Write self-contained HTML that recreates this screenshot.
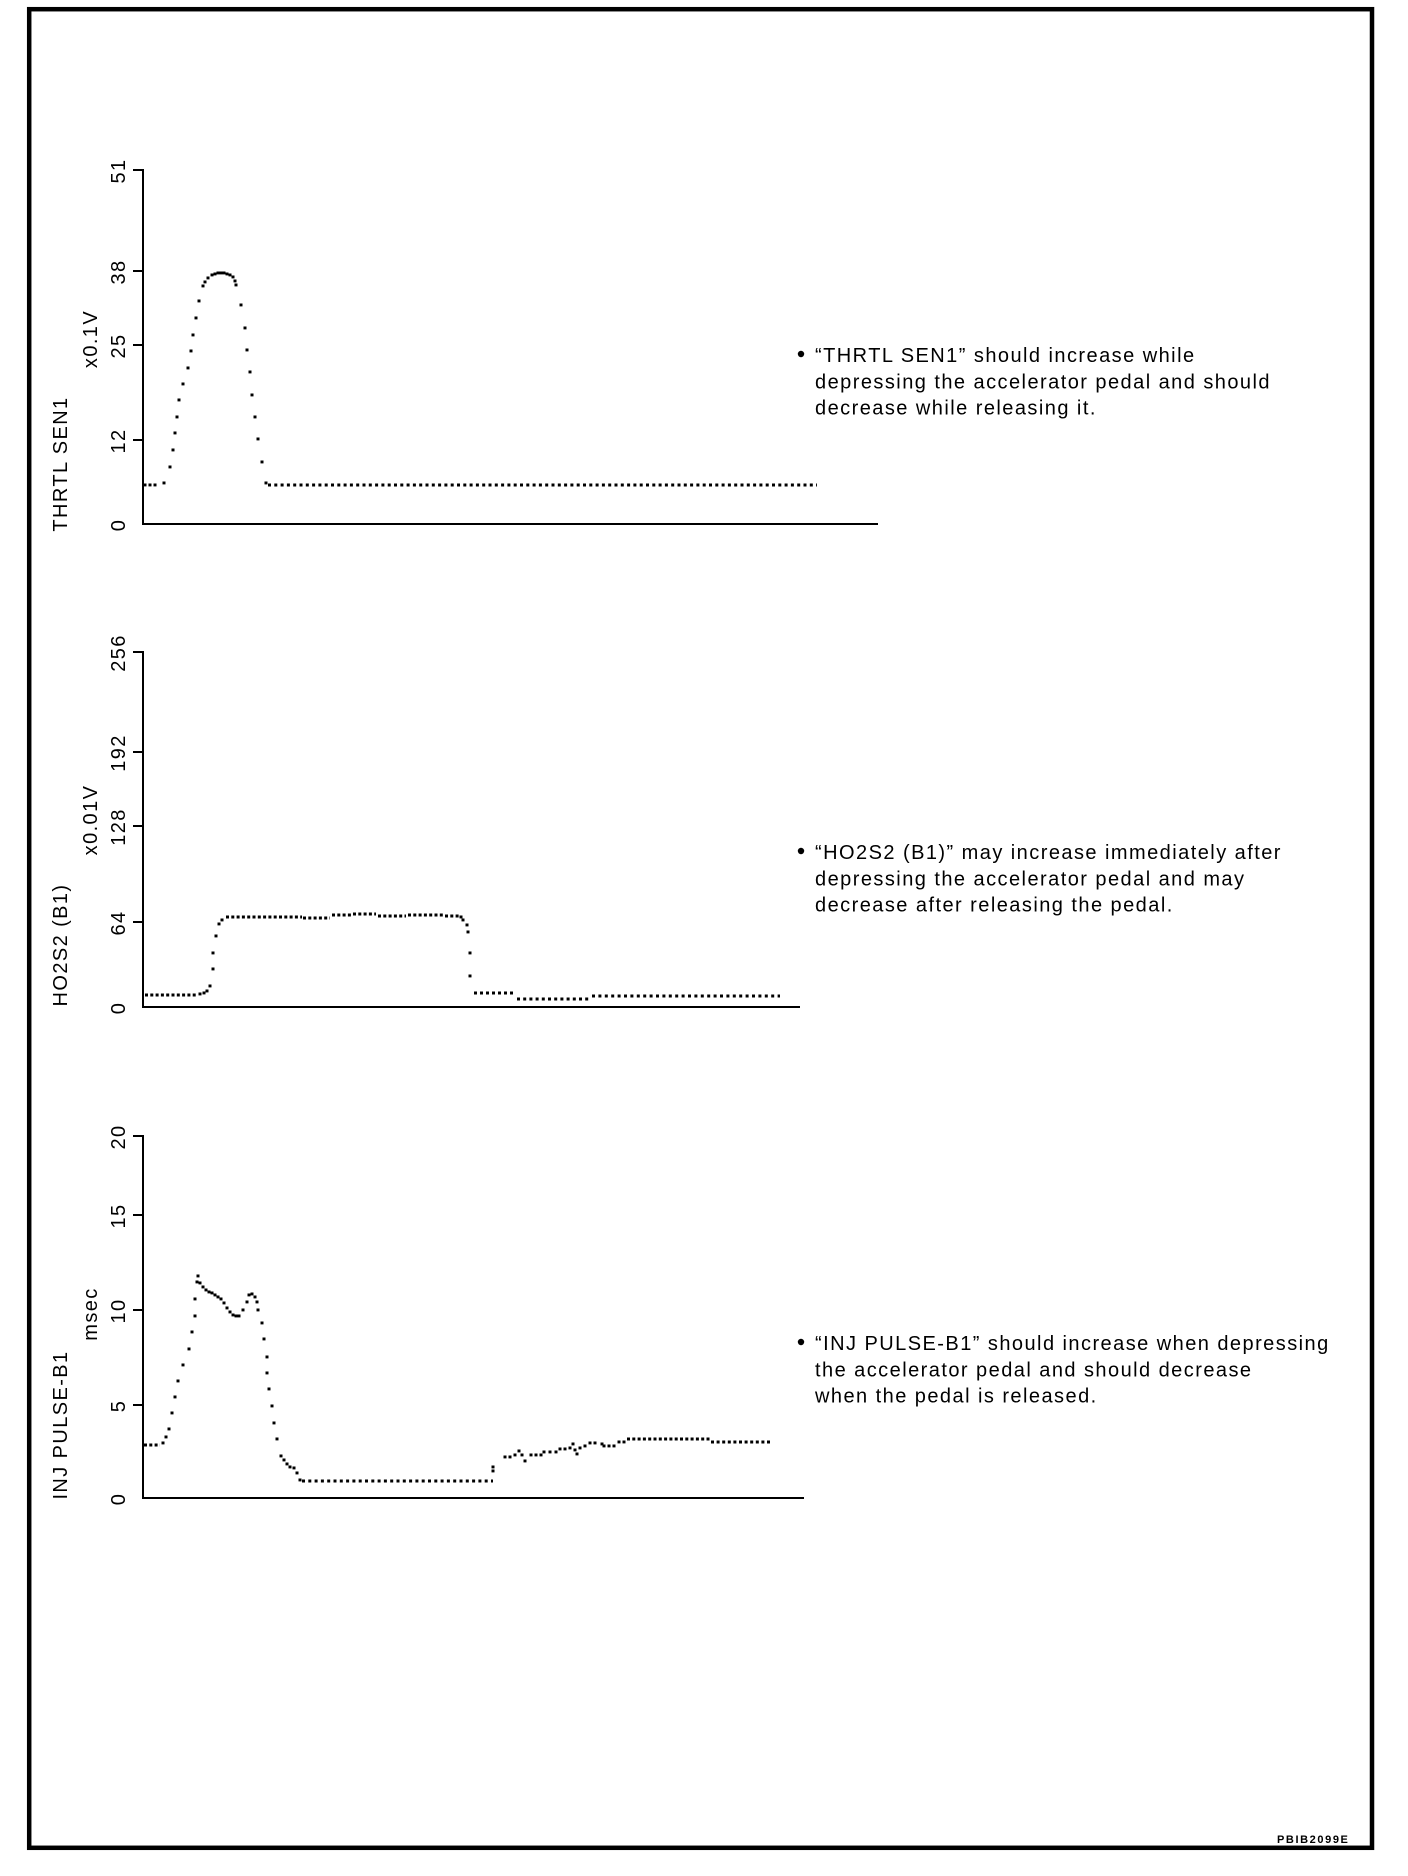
<!DOCTYPE html>
<html>
<head>
<meta charset="utf-8">
<style>
  html, body { margin:0; padding:0; background:#fff; }
  body { width:1408px; height:1876px; overflow:hidden; }
  svg { display:block; }
  text { font-family: "Liberation Sans", Arial, sans-serif; fill:#000; }
  .lbl { font-size:20px; letter-spacing:1.4px; }
  .para { font-size:20px; letter-spacing:1.45px; }
</style>
</head>
<body>
<svg width="1408" height="1876" viewBox="0 0 1408 1876" xmlns="http://www.w3.org/2000/svg">
  <rect x="0" y="0" width="1408" height="1876" fill="#fff"/>
  <!-- frame -->
  <rect x="29.2" y="9.2" width="1342.8" height="1838.6" fill="none" stroke="#000" stroke-width="4.5"/>

  <!-- ============ CHART 1 ============ -->
  <g stroke="#000" stroke-width="2" fill="none">
    <line x1="143" y1="169" x2="143" y2="525"/>
    <line x1="142" y1="524" x2="878" y2="524"/>
    <line x1="133" y1="170" x2="143" y2="170"/>
    <line x1="133" y1="271" x2="143" y2="271"/>
    <line x1="133" y1="345" x2="143" y2="345"/>
    <line x1="133" y1="440" x2="143" y2="440"/>
  </g>
  <g class="lbl">
    <text transform="translate(125,171) rotate(-90)" text-anchor="middle">51</text>
    <text transform="translate(125,272) rotate(-90)" text-anchor="middle">38</text>
    <text transform="translate(125,346) rotate(-90)" text-anchor="middle">25</text>
    <text transform="translate(125,441) rotate(-90)" text-anchor="middle">12</text>
    <text transform="translate(125,525) rotate(-90)" text-anchor="middle">0</text>
    <text transform="translate(97,339) rotate(-90)" text-anchor="middle">x0.1V</text>
    <text transform="translate(67,464) rotate(-90)" text-anchor="middle">THRTL SEN1</text>
  </g>
  <g fill="#000">
    <rect x="143.5" y="483.5" width="3" height="2.9"/>
    <rect x="148.5" y="483.5" width="3" height="2.9"/>
    <rect x="153.5" y="483.5" width="3" height="2.9"/>
    <rect x="162.5" y="481.5" width="3" height="2.9"/>
    <rect x="168.5" y="465.5" width="3" height="2.9"/>
    <rect x="171.5" y="448.5" width="3" height="2.9"/>
    <rect x="173.5" y="431.5" width="3" height="2.9"/>
    <rect x="175.5" y="415.5" width="3" height="2.9"/>
    <rect x="177.5" y="398.5" width="3" height="2.9"/>
    <rect x="181.5" y="382.5" width="3" height="2.9"/>
    <rect x="186.5" y="366.5" width="3" height="2.9"/>
    <rect x="189.5" y="349.5" width="3" height="2.9"/>
    <rect x="191.5" y="333.5" width="3" height="2.9"/>
    <rect x="194.5" y="316.5" width="3" height="2.9"/>
    <rect x="197.5" y="299.5" width="3" height="2.9"/>
    <rect x="201.5" y="284.5" width="3" height="2.9"/>
    <rect x="203.5" y="280.5" width="3" height="2.9"/>
    <rect x="206.5" y="276.5" width="3" height="2.9"/>
    <rect x="210.5" y="273.5" width="3" height="2.9"/>
    <rect x="213.5" y="272.5" width="3" height="2.9"/>
    <rect x="216.5" y="271.5" width="3" height="2.9"/>
    <rect x="219.5" y="271.5" width="3" height="2.9"/>
    <rect x="222.5" y="271.5" width="3" height="2.9"/>
    <rect x="225.5" y="272.5" width="3" height="2.9"/>
    <rect x="228.5" y="273.5" width="3" height="2.9"/>
    <rect x="231.5" y="275.5" width="3" height="2.9"/>
    <rect x="233.5" y="279.5" width="3" height="2.9"/>
    <rect x="234.5" y="283.5" width="3" height="2.9"/>
    <rect x="239.5" y="303.5" width="3" height="2.9"/>
    <rect x="243.5" y="326.5" width="3" height="2.9"/>
    <rect x="245.5" y="348.5" width="3" height="2.9"/>
    <rect x="248.5" y="370.5" width="3" height="2.9"/>
    <rect x="250.5" y="393.5" width="3" height="2.9"/>
    <rect x="253.5" y="415.5" width="3" height="2.9"/>
    <rect x="256.5" y="437.5" width="3" height="2.9"/>
    <rect x="260.5" y="460.5" width="3" height="2.9"/>
    <rect x="264.5" y="481.5" width="3" height="2.9"/>
  </g>
  <line x1="268" y1="485" x2="817" y2="485" stroke="#000" stroke-width="2.9" stroke-dasharray="3 3.3"/>

  <!-- paragraph 1 -->
  <circle cx="801" cy="354" r="3.2" fill="#000"/>
  <g class="para">
    <text x="815" y="362">“THRTL SEN1” should increase while</text>
    <text x="815" y="388.3">depressing the accelerator pedal and should</text>
    <text x="815" y="414.6">decrease while releasing it.</text>
  </g>

  <!-- ============ CHART 2 ============ -->
  <g stroke="#000" stroke-width="2" fill="none">
    <line x1="143" y1="651" x2="143" y2="1008"/>
    <line x1="142" y1="1007" x2="800" y2="1007"/>
    <line x1="133" y1="652" x2="143" y2="652"/>
    <line x1="133" y1="752" x2="143" y2="752"/>
    <line x1="133" y1="826" x2="143" y2="826"/>
    <line x1="133" y1="922" x2="143" y2="922"/>
  </g>
  <g class="lbl">
    <text transform="translate(125,653) rotate(-90)" text-anchor="middle">256</text>
    <text transform="translate(125,753) rotate(-90)" text-anchor="middle">192</text>
    <text transform="translate(125,827) rotate(-90)" text-anchor="middle">128</text>
    <text transform="translate(125,923) rotate(-90)" text-anchor="middle">64</text>
    <text transform="translate(125,1008) rotate(-90)" text-anchor="middle">0</text>
    <text transform="translate(97,820) rotate(-90)" text-anchor="middle">x0.01V</text>
    <text transform="translate(67,945) rotate(-90)" text-anchor="middle">HO2S2 (B1)</text>
  </g>
  <g stroke="#000" stroke-width="2.9" fill="none">
    <line x1="145" y1="995" x2="198" y2="995" stroke-dasharray="3 2.3"/>
    <line x1="226" y1="917" x2="302" y2="917" stroke-dasharray="3 2.3"/>
    <line x1="303" y1="918" x2="330" y2="918" stroke-dasharray="3 2.3"/>
    <line x1="332" y1="915" x2="351" y2="915" stroke-dasharray="3 2.3"/>
    <line x1="353" y1="914" x2="376" y2="914" stroke-dasharray="3 2.3"/>
    <line x1="378" y1="916" x2="406" y2="916" stroke-dasharray="3 2.3"/>
    <line x1="408" y1="915" x2="443" y2="915" stroke-dasharray="3 2.3"/>
    <line x1="445" y1="916" x2="459" y2="916" stroke-dasharray="3 2.3"/>
    <line x1="474" y1="993" x2="516" y2="993" stroke-dasharray="3 3"/>
    <line x1="517" y1="999" x2="591" y2="999" stroke-dasharray="3 3.2"/>
    <line x1="592" y1="996" x2="780" y2="996" stroke-dasharray="3 3.4"/>
  </g>
  <g fill="#000">
    <rect x="198.5" y="992.5" width="3" height="2.9"/>
    <rect x="202.5" y="991.5" width="3" height="2.9"/>
    <rect x="205.5" y="989.5" width="3" height="2.9"/>
    <rect x="208.5" y="984.5" width="3" height="2.9"/>
    <rect x="211.5" y="967.5" width="3" height="2.9"/>
    <rect x="211.5" y="951.5" width="3" height="2.9"/>
    <rect x="214.5" y="934.5" width="3" height="2.9"/>
    <rect x="217.5" y="922.5" width="3" height="2.9"/>
    <rect x="220.5" y="918.5" width="3" height="2.9"/>
    <rect x="459.5" y="915.5" width="3" height="2.9"/>
    <rect x="461.5" y="918.5" width="3" height="2.9"/>
    <rect x="465.5" y="923.5" width="3" height="2.9"/>
    <rect x="466.5" y="930.5" width="3" height="2.9"/>
    <rect x="468.5" y="951.5" width="3" height="2.9"/>
    <rect x="468.5" y="974.5" width="3" height="2.9"/>
  </g>

  <!-- paragraph 2 -->
  <circle cx="801" cy="851" r="3.2" fill="#000"/>
  <g class="para">
    <text x="815" y="859">“HO2S2 (B1)” may increase immediately after</text>
    <text x="815" y="885.3">depressing the accelerator pedal and may</text>
    <text x="815" y="911.6">decrease after releasing the pedal.</text>
  </g>

  <!-- ============ CHART 3 ============ -->
  <g stroke="#000" stroke-width="2" fill="none">
    <line x1="143" y1="1135" x2="143" y2="1499"/>
    <line x1="142" y1="1498" x2="804" y2="1498"/>
    <line x1="133" y1="1136" x2="143" y2="1136"/>
    <line x1="133" y1="1215" x2="143" y2="1215"/>
    <line x1="133" y1="1310" x2="143" y2="1310"/>
    <line x1="133" y1="1405" x2="143" y2="1405"/>
  </g>
  <g class="lbl">
    <text transform="translate(125,1137) rotate(-90)" text-anchor="middle">20</text>
    <text transform="translate(125,1216) rotate(-90)" text-anchor="middle">15</text>
    <text transform="translate(125,1311) rotate(-90)" text-anchor="middle">10</text>
    <text transform="translate(125,1406) rotate(-90)" text-anchor="middle">5</text>
    <text transform="translate(125,1499) rotate(-90)" text-anchor="middle">0</text>
    <text transform="translate(97,1314) rotate(-90)" text-anchor="middle">msec</text>
    <text transform="translate(67,1425) rotate(-90)" text-anchor="middle">INJ PULSE-B1</text>
  </g>
  <g stroke="#000" stroke-width="2.9" fill="none">
    <line x1="144" y1="1445" x2="160" y2="1445" stroke-dasharray="3 2.3"/>
    <line x1="302" y1="1481" x2="493" y2="1481" stroke-dasharray="3 3.3"/>
    <line x1="627" y1="1439" x2="710" y2="1439" stroke-dasharray="3 2.3"/>
    <line x1="711" y1="1442" x2="770" y2="1442" stroke-dasharray="3 2.6"/>
  </g>
  <g fill="#000">
    <rect x="161.5" y="1441.5" width="3" height="2.9"/>
    <rect x="164.5" y="1435.5" width="3" height="2.9"/>
    <rect x="167.5" y="1427.5" width="3" height="2.9"/>
    <rect x="170.5" y="1411.5" width="3" height="2.9"/>
    <rect x="173.5" y="1395.5" width="3" height="2.9"/>
    <rect x="176.5" y="1379.5" width="3" height="2.9"/>
    <rect x="181.5" y="1363.5" width="3" height="2.9"/>
    <rect x="187.5" y="1347.5" width="3" height="2.9"/>
    <rect x="190.5" y="1330.5" width="3" height="2.9"/>
    <rect x="193.5" y="1314.5" width="3" height="2.9"/>
    <rect x="193.5" y="1297.5" width="3" height="2.9"/>
    <rect x="195.5" y="1280.5" width="3" height="2.9"/>
    <rect x="196.5" y="1274.5" width="3" height="2.9"/>
    <rect x="198.5" y="1281.5" width="3" height="2.9"/>
    <rect x="201.5" y="1285.5" width="3" height="2.9"/>
    <rect x="204.5" y="1288.5" width="3" height="2.9"/>
    <rect x="207.5" y="1290.5" width="3" height="2.9"/>
    <rect x="210.5" y="1291.5" width="3" height="2.9"/>
    <rect x="213.5" y="1293.5" width="3" height="2.9"/>
    <rect x="216.5" y="1295.5" width="3" height="2.9"/>
    <rect x="219.5" y="1297.5" width="3" height="2.9"/>
    <rect x="222.5" y="1301.5" width="3" height="2.9"/>
    <rect x="225.5" y="1306.5" width="3" height="2.9"/>
    <rect x="228.5" y="1310.5" width="3" height="2.9"/>
    <rect x="231.5" y="1313.5" width="3" height="2.9"/>
    <rect x="234.5" y="1314.5" width="3" height="2.9"/>
    <rect x="237.5" y="1314.5" width="3" height="2.9"/>
    <rect x="241.5" y="1308.5" width="3" height="2.9"/>
    <rect x="245.5" y="1300.5" width="3" height="2.9"/>
    <rect x="247.5" y="1293.5" width="3" height="2.9"/>
    <rect x="250.5" y="1292.5" width="3" height="2.9"/>
    <rect x="253.5" y="1295.5" width="3" height="2.9"/>
    <rect x="255.5" y="1300.5" width="3" height="2.9"/>
    <rect x="256.5" y="1308.5" width="3" height="2.9"/>
    <rect x="260.5" y="1321.5" width="3" height="2.9"/>
    <rect x="262.5" y="1337.5" width="3" height="2.9"/>
    <rect x="265.5" y="1355.5" width="3" height="2.9"/>
    <rect x="265.5" y="1371.5" width="3" height="2.9"/>
    <rect x="267.5" y="1387.5" width="3" height="2.9"/>
    <rect x="270.5" y="1404.5" width="3" height="2.9"/>
    <rect x="272.5" y="1421.5" width="3" height="2.9"/>
    <rect x="275.5" y="1437.5" width="3" height="2.9"/>
    <rect x="279.5" y="1454.5" width="3" height="2.9"/>
    <rect x="282.5" y="1458.5" width="3" height="2.9"/>
    <rect x="285.5" y="1462.5" width="3" height="2.9"/>
    <rect x="288.5" y="1465.5" width="3" height="2.9"/>
    <rect x="292.5" y="1466.5" width="3" height="2.9"/>
    <rect x="295.5" y="1471.5" width="3" height="2.9"/>
    <rect x="298.5" y="1478.5" width="3" height="2.9"/>
    <!-- right part -->
    <rect x="491.5" y="1469.5" width="3" height="2.9"/>
    <rect x="491.5" y="1465.5" width="3" height="2.9"/>
    <rect x="503.5" y="1455.5" width="3" height="2.9"/>
    <rect x="508.5" y="1455.5" width="3" height="2.9"/>
    <rect x="513.5" y="1453.5" width="3" height="2.9"/>
    <rect x="517.5" y="1449.5" width="3" height="2.9"/>
    <rect x="520.5" y="1453.5" width="3" height="2.9"/>
    <rect x="523.5" y="1459.5" width="3" height="2.9"/>
    <rect x="529.5" y="1453.5" width="3" height="2.9"/>
    <rect x="534.5" y="1453.5" width="3" height="2.9"/>
    <rect x="539.5" y="1453.5" width="3" height="2.9"/>
    <rect x="542.5" y="1450.5" width="3" height="2.9"/>
    <rect x="548.5" y="1450.5" width="3" height="2.9"/>
    <rect x="554.5" y="1450.5" width="3" height="2.9"/>
    <rect x="558.5" y="1447.5" width="3" height="2.9"/>
    <rect x="563.5" y="1447.5" width="3" height="2.9"/>
    <rect x="568.5" y="1446.5" width="3" height="2.9"/>
    <rect x="571.5" y="1442.5" width="3" height="2.9"/>
    <rect x="573.5" y="1448.5" width="3" height="2.9"/>
    <rect x="575.5" y="1452.5" width="3" height="2.9"/>
    <rect x="578.5" y="1446.5" width="3" height="2.9"/>
    <rect x="583.5" y="1444.5" width="3" height="2.9"/>
    <rect x="588.5" y="1441.5" width="3" height="2.9"/>
    <rect x="593.5" y="1441.5" width="3" height="2.9"/>
    <rect x="600.5" y="1442.5" width="3" height="2.9"/>
    <rect x="602.5" y="1444.5" width="3" height="2.9"/>
    <rect x="607.5" y="1444.5" width="3" height="2.9"/>
    <rect x="612.5" y="1444.5" width="3" height="2.9"/>
    <rect x="617.5" y="1440.5" width="3" height="2.9"/>
    <rect x="622.5" y="1440.5" width="3" height="2.9"/>
  </g>

  <!-- paragraph 3 -->
  <circle cx="801" cy="1342" r="3.2" fill="#000"/>
  <g class="para">
    <text x="815" y="1350">“INJ PULSE-B1” should increase when depressing</text>
    <text x="815" y="1376.3">the accelerator pedal and should decrease</text>
    <text x="815" y="1402.6">when the pedal is released.</text>
  </g>

  <!-- footer code -->
  <text x="1277" y="1843" style="font-size:11px;font-weight:bold;letter-spacing:1.6px;">PBIB2099E</text>
</svg>
</body>
</html>
